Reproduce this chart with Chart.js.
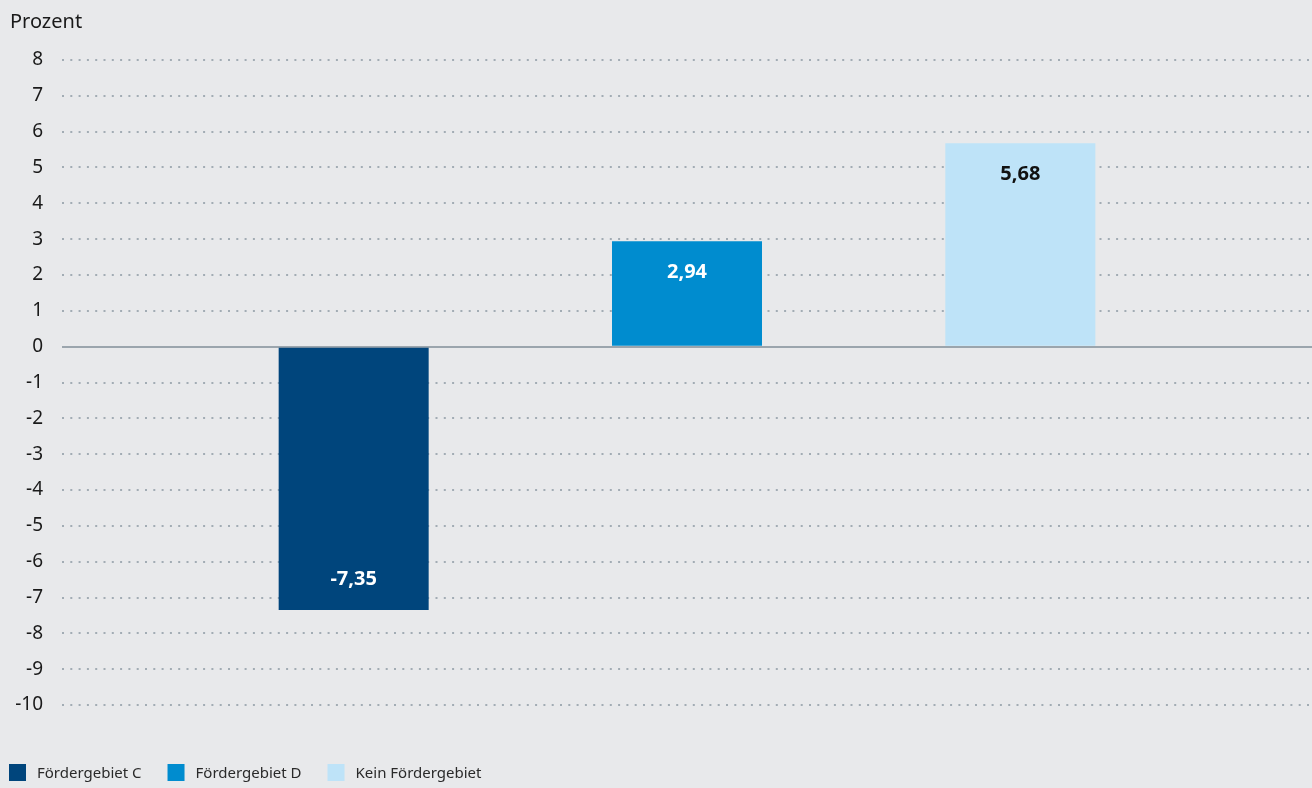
<!DOCTYPE html>
<html><head><meta charset="utf-8">
<script src="https://cdn.jsdelivr.net/npm/chart.js@4.4.1/dist/chart.umd.min.js"></script>
<style>
html,body{margin:0;padding:0;background:#e8e9eb;}
#wrap{width:1312px;height:788px;position:relative;}
</style>
</head><body>
<div id="wrap"><canvas id="c" width="1312" height="788"></canvas></div>
<script>
const categories = [''];
const seriesNames = ['Fördergebiet C', 'Fördergebiet D', 'Kein Fördergebiet'];
const valuesC = [-7.35];
const valuesD = [2.94];
const valuesKein = [5.68];
const yTickValues = [8, 7, 6, 5, 4, 3, 2, 1, 0, -1, -2, -3, -4, -5, -6, -7, -8, -9, -10];
const axisTitle = 'Prozent';

const FONT = '"Noto Sans", "DejaVu Sans", sans-serif';
const colors = ['#00457c', '#008ccf', '#bee3f8'];
const labelColors = ['#ffffff', '#ffffff', '#111111'];

const fmt = v => v.toFixed(2).replace('.', ',');

const bgPlugin = {
  id: 'bg',
  beforeDraw(chart) {
    const ctx = chart.ctx;
    ctx.save();
    ctx.fillStyle = '#e8e9eb';
    ctx.fillRect(0, 0, chart.width, chart.height);
    ctx.restore();
  }
};

const titlePlugin = {
  id: 'axisTitleText',
  afterDraw(chart) {
    const ctx = chart.ctx;
    ctx.save();
    ctx.font = '20px ' + FONT;
    ctx.fillStyle = '#1a1a1a';
    ctx.textAlign = 'left';
    ctx.textBaseline = 'alphabetic';
    ctx.fillText(axisTitle, 10, 28);
    ctx.restore();
  }
};

const valueLabelPlugin = {
  id: 'valueLabels',
  afterDatasetsDraw(chart) {
    const ctx = chart.ctx;
    ctx.save();
    ctx.font = 'bold 20px ' + FONT;
    ctx.textAlign = 'center';
    ctx.textBaseline = 'middle';
    chart.data.datasets.forEach((ds, i) => {
      const meta = chart.getDatasetMeta(i);
      meta.data.forEach((bar, j) => {
        const v = ds.data[j];
        const y = v >= 0 ? bar.y + 31 : bar.y - 31;
        ctx.fillStyle = labelColors[i];
        ctx.fillText(fmt(v), bar.x, y);
      });
    });
    ctx.restore();
  }
};

const legendPlugin = {
  id: 'customLegend',
  afterDraw(chart) {
    const ctx = chart.ctx;
    ctx.save();
    ctx.font = '15px ' + FONT;
    ctx.textAlign = 'left';
    ctx.textBaseline = 'middle';
    let x = 9;
    const top = 764, box = 17;
    chart.data.datasets.forEach((ds, i) => {
      ctx.fillStyle = ds.backgroundColor;
      ctx.fillRect(x, top, box, box);
      const tx = x + box + 11;
      ctx.fillStyle = '#2a2a2a';
      ctx.fillText(ds.label, tx, top + box / 2 + 1);
      x = tx + ctx.measureText(ds.label).width + 26;
    });
    ctx.restore();
  }
};

new Chart(document.getElementById('c'), {
  type: 'bar',
  data: {
    labels: categories,
    datasets: [
      { label: seriesNames[0], data: valuesC, backgroundColor: colors[0] },
      { label: seriesNames[1], data: valuesD, backgroundColor: colors[1] },
      { label: seriesNames[2], data: valuesKein, backgroundColor: colors[2] }
    ]
  },
  options: {
    responsive: false,
    animation: false,
    devicePixelRatio: 1,
    layout: { padding: { top: 60, bottom: 83, left: 0, right: 0 } },
    datasets: { bar: { categoryPercentage: 0.8, barPercentage: 0.45 } },
    plugins: { legend: { display: false }, tooltip: { enabled: false }, title: { display: false } },
    scales: {
      x: { display: false },
      y: {
        min: -10, max: 8,
        afterBuildTicks(scale) { scale.ticks = yTickValues.map(v => ({ value: v })); },
        afterFit(scale) { scale.width = 62; },
        ticks: {
          color: '#1a1a1a',
          font: { family: FONT, size: 19 },
          padding: 19,
          callback: v => String(v)
        },
        grid: {
          drawTicks: false,
          color: c => c.tick && c.tick.value === 0 ? '#9ba5ad' : '#a2acb4',
          lineWidth: 2
        },
        border: {
          display: false,
          dash: c => c.tick && c.tick.value === 0 ? [] : [2, 6.3]
        }
      }
    }
  },
  plugins: [bgPlugin, valueLabelPlugin, titlePlugin, legendPlugin]
});
</script>
</body></html>
